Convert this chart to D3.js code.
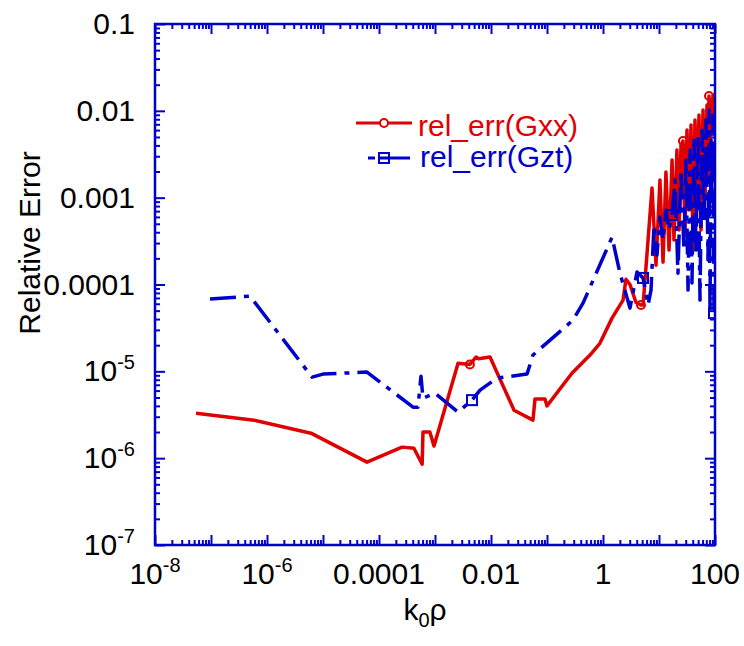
<!DOCTYPE html>
<html>
<meta charset="utf-8">
<head>
  <title>Relative error</title>
</head>

<style>
body {
  margin: 0;
  background: #fff;
}
text {
  font-family: "Liberation Sans", Arial, Helvetica, sans-serif;
}
.frame {
  fill: none;
  stroke: #0000cc;
  stroke-width: 2.5;
}
.tick line {
  stroke: #0000cc;
  stroke-width: 2;
}
.domain {
  display: none;
}
</style>

<body>
  <svg id="chart" width="744" height="646"></svg>

  <script src="https://cdnjs.cloudflare.com/ajax/libs/d3/7.8.5/d3.min.js"></script>

  <script>
var width = 744, height = 646
// plot frame (window.top is read-only, so use other names)
var pLeft = 155, pRight = 715, pTop = 24, pBottom = 545

// rel_err(Gxx), red solid
var gxxX = [5.4e-8, 5.9e-7, 6.1e-6, 6.1e-5, 2.58e-4, 4.2e-4, 5.9e-4, 6.1e-4, 8.1e-4, 9.6e-4,
  2.58e-3, 4.2e-3, 5.4e-3, 6.0e-3, 9.6e-3, 0.0258, 0.0562, 0.061, 0.092, 0.1,
  0.279, 0.586, 0.88, 1.45, 2.28, 2.57, 3.03, 3.88, 4.77, 5.2,
  7.5, 8.84, 10.4, 11.8, 13.3, 15.1, 17.1, 18.5, 20.9, 22.8,
  24.7, 26.8, 29.1, 31.6, 34.3, 37.3, 40.5, 43.9, 47.7, 51.8,
  56.2, 61.1, 66.3, 72.0, 75.0, 78.2, 81.5, 84.9, 88.4, 92.1, 96.0]
var gxxY = [3.3e-6, 2.74e-6, 1.94e-6, 9.0e-7, 1.34e-6, 1.30e-6, 8.5e-7, 2.0e-6, 2.0e-6, 1.38e-6,
  1.24e-5, 1.2e-5, 1.46e-5, 1.4e-5, 1.46e-5, 3.57e-6, 2.74e-6, 4.8e-6, 4.8e-6, 4.0e-6,
  9.5e-6, 1.54e-5, 2.1e-5, 4.1e-5, 6.6e-5, 1.15e-4, 1.0e-4, 6.2e-5, 5.8e-5, 5.8e-5,
  1.29e-3, 1.67e-4, 1.60e-3, 1.81e-4, 1.97e-3, 2.49e-4, 2.71e-3, 3.25e-4, 3.53e-3, 4.24e-4,
  4.04e-3, 4.49e-3, 3.71e-4, 6.01e-3, 7.20e-4, 6.86e-3, 2.49e-4, 7.83e-3, 9.38e-4, 8.95e-3,
  4.24e-4, 1.02e-2, 9.38e-4, 1.17e-2, 3.53e-3, 1.48e-2, 1.60e-3, 1.33e-2, 6.01e-3, 1.52e-2, 6.34e-3]
var gxxMarks = [11, 28, 41, 55, 60]

// rel_err(Gzt), blue dash-dot
var gztX = [9.6e-8, 4.97e-7, 6.37e-6, 1e-5, 6.1e-5, 4.05e-4, 4.97e-4, 5.62e-4, 6.1e-4, 1e-3,
  2.58e-3, 4.58e-3, 6.37e-3, 0.0128, 0.044, 0.0562, 0.291, 0.44, 1.45, 2.01,
  3.03, 4.05, 5.18, 6.37, 7.2, 8.15, 9.2, 10.4, 11.8, 13.3,
  15.1, 17.1, 19.3, 21.8, 24.7, 27.9, 30.3, 33.0, 35.8, 38.8,
  42.2, 45.8, 49.7, 54.0, 58.6, 63.7, 69.1, 75.0, 78.2, 81.5,
  84.9, 88.4, 92.1, 96.0]
var gztY = [6.79e-5, 7.35e-5, 8.57e-6, 9.3e-6, 9.8e-6, 3.87e-6, 3.87e-6, 8.8e-6, 4.9e-6, 5.6e-6,
  3.39e-6, 4.66e-6, 6.07e-6, 8.35e-6, 9.3e-6, 1.54e-5, 3.89e-5, 6.1e-5, 3.5e-4, 1.35e-4,
  5.35e-5, 1.39e-4, 1.19e-4, 5.79e-5, 8.62e-5, 4.83e-4, 2.18e-4, 5.97e-4, 3.25e-4, 7.2e-4,
  4.24e-4, 6.31e-4, 1.6e-3, 1.35e-4, 2.08e-3, 2.49e-4, 2.71e-3, 8.62e-5, 3.53e-3, 1.04e-4,
  4.61e-3, 2.49e-4, 5.26e-3, 6.61e-5, 6.01e-3, 5.52e-4, 7.83e-3, 1.91e-4, 1.02e-2, 4.68e-5,
  4.61e-3, 9.38e-4, 8.95e-3, 4.68e-5]
var gztMarks = [11, 22, 31, 53]

// tick labels
var xLabelVals = [1e-8, 1e-6, 1e-4, 1e-2, 1, 100]
var xLabels = ['10^-8', '10^-6', '0.0001', '0.01', '1', '100']
var yLabelVals = [0.1, 0.01, 0.001, 0.0001, 1e-5, 1e-6, 1e-7]
var yLabels = ['0.1', '0.01', '0.001', '0.0001', '10^-5', '10^-6', '10^-7']

var red = '#e00000', blue = '#0000cc'

var x = d3.scaleLog().domain([1e-8, 100]).range([pLeft, pRight])
var y = d3.scaleLog().domain([1e-7, 0.1]).range([pBottom, pTop])

var svg = d3.select('#chart')

// major (decade) and minor tick positions
function decades(lo, hi) {
  var out = []
  for (var e = lo; e <= hi; e++) out.push(Math.pow(10, e))
  return out
}
function minors(lo, hi) {
  var out = []
  for (var e = lo; e < hi; e++)
    for (var m = 2; m <= 9; m++) out.push(m * Math.pow(10, e))
  return out
}
var xMaj = decades(-8, 2), xMin = minors(-8, 2)
var yMaj = decades(-7, -1), yMin = minors(-7, -1)

function addAxis(axis, vals, size, tx, ty) {
  svg.append('g')
    .attr('transform', 'translate(' + tx + ',' + ty + ')')
    .call(axis.tickValues(vals).tickSize(size).tickFormat(''))
}
// ticks point inward on all four sides
addAxis(d3.axisBottom(x), xMaj, -10, 0, pBottom)
addAxis(d3.axisBottom(x), xMin, -5, 0, pBottom)
addAxis(d3.axisTop(x), xMaj, -10, 0, pTop)
addAxis(d3.axisTop(x), xMin, -5, 0, pTop)
addAxis(d3.axisLeft(y), yMaj, -10, pLeft, 0)
addAxis(d3.axisLeft(y), yMin, -5, pLeft, 0)
addAxis(d3.axisRight(y), yMaj, -10, pRight, 0)
addAxis(d3.axisRight(y), yMin, -5, pRight, 0)

svg.append('clipPath').attr('id', 'plot')
  .append('rect')
  .attr('x', pLeft).attr('y', pTop)
  .attr('width', pRight - pLeft).attr('height', pBottom - pTop)

var line = d3.line()
  .x(function(d) { return x(d[0]) })
  .y(function(d) { return y(d[1]) })

var gxx = gxxX.map(function(v, i) { return [v, gxxY[i]] })
var gzt = gztX.map(function(v, i) { return [v, gztY[i]] })

var plot = svg.append('g').attr('clip-path', 'url(#plot)')

plot.append('path')
  .datum(gxx)
  .attr('d', line)
  .attr('fill', 'none')
  .attr('stroke', red)
  .attr('stroke-width', 3.5)
  .attr('stroke-linejoin', 'round')

plot.selectAll('circle.gxx')
  .data(gxxMarks.map(function(i) { return gxx[i] }))
  .enter()
  .append('circle')
  .attr('class', 'gxx')
  .attr('cx', function(d) { return x(d[0]) })
  .attr('cy', function(d) { return y(d[1]) })
  .attr('r', 4)
  .attr('fill', 'none')
  .attr('stroke', red)
  .attr('stroke-width', 2)

plot.append('path')
  .datum(gzt)
  .attr('d', line)
  .attr('fill', 'none')
  .attr('stroke', blue)
  .attr('stroke-width', 3.5)
  .attr('stroke-dasharray', '26,8,5,8')
  .attr('stroke-linejoin', 'round')

plot.selectAll('rect.gzt')
  .data(gztMarks.map(function(i) { return gzt[i] }))
  .enter()
  .append('rect')
  .attr('class', 'gzt')
  .attr('x', function(d) { return x(d[0]) - 5 })
  .attr('y', function(d) { return y(d[1]) - 5 })
  .attr('width', 10)
  .attr('height', 10)
  .attr('fill', 'none')
  .attr('stroke', blue)
  .attr('stroke-width', 2)

svg.append('rect')
  .attr('class', 'frame')
  .attr('x', pLeft).attr('y', pTop)
  .attr('width', pRight - pLeft).attr('height', pBottom - pTop)

// labels like '10^-6' get a superscript
function label(sel, s) {
  var p = s.split('^')
  sel.append('tspan').text(p[0])
  if (p.length > 1)
    sel.append('tspan').attr('dy', -12).attr('font-size', 20).text(p[1])
}

xLabelVals.forEach(function(v, i) {
  var t = svg.append('text')
    .attr('x', x(v))
    .attr('y', 584)
    .attr('text-anchor', 'middle')
    .attr('font-size', 30)
    .attr('fill', '#000')
  label(t, xLabels[i])
})

yLabelVals.forEach(function(v, i) {
  var t = svg.append('text')
    .attr('x', 135)
    .attr('y', y(v) + 10)
    .attr('text-anchor', 'end')
    .attr('font-size', 30)
    .attr('fill', '#000')
  label(t, yLabels[i])
})

svg.append('text')
  .attr('transform', 'translate(40,' + 243 + ') rotate(-90)')
  .attr('text-anchor', 'middle')
  .attr('font-size', 30)
  .text('Relative Error')

var xt = svg.append('text')
  .attr('x', 425)
  .attr('y', 620)
  .attr('text-anchor', 'middle')
  .attr('font-size', 30)
xt.append('tspan').text('k')
xt.append('tspan').attr('dy', 7).attr('font-size', 20).text('0')
xt.append('tspan').attr('dy', -7).text('ρ')

// legend
var leg = svg.append('g')
leg.append('line')
  .attr('x1', 356).attr('x2', 412).attr('y1', 123).attr('y2', 123)
  .attr('stroke', red).attr('stroke-width', 3)
leg.append('circle')
  .attr('cx', 384).attr('cy', 123).attr('r', 4)
  .attr('fill', '#fff').attr('stroke', red).attr('stroke-width', 2)
leg.append('text')
  .attr('x', 418).attr('y', 136)
  .attr('font-size', 30).attr('fill', red)
  .text('rel_err(Gxx)')

leg.append('line')
  .attr('x1', 368).attr('x2', 410).attr('y1', 158).attr('y2', 158)
  .attr('stroke', blue).attr('stroke-width', 3)
  .attr('stroke-dasharray', '7,4,50')
leg.append('rect')
  .attr('x', 379).attr('y', 153).attr('width', 10).attr('height', 10)
  .attr('fill', 'none').attr('stroke', blue).attr('stroke-width', 2)
leg.append('text')
  .attr('x', 420).attr('y', 167)
  .attr('font-size', 30).attr('fill', blue)
  .text('rel_err(Gzt)')
  </script>
</body>
</html>
